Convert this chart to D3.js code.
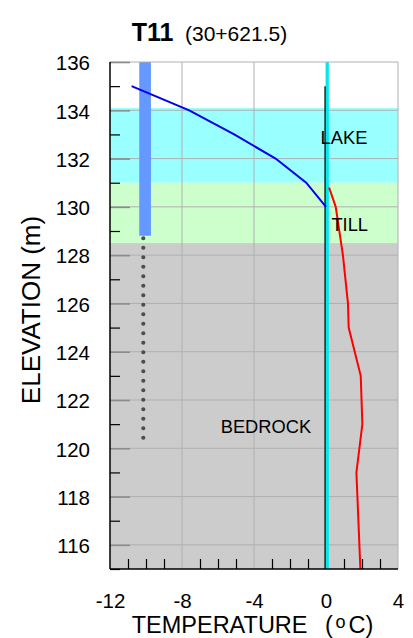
<!DOCTYPE html>
<html><head><meta charset="utf-8">
<script src="https://cdn.jsdelivr.net/npm/d3@7"></script>
<style>
html,body{margin:0;padding:0;background:#fff;}
svg{display:block;font-family:"Liberation Sans",Arial,sans-serif;}
</style></head>
<body>
<svg id="c" width="413" height="638"></svg>
<script>
// ---- data ----
const titleMain = "T11";
const titleSub = "(30+621.5)";
const xTickLabels = [-12, -8, -4, 0, 4];
const yTickLabels = [116, 118, 120, 122, 124, 126, 128, 130, 132, 134, 136];
const xDomain = [-12, 4];
const yDomain = [115, 136];

const layerNames = ["LAKE", "TILL", "BEDROCK"];
const layerTop = [134.1, 131, 128.5];
const layerBottom = [131, 128.5, 115];
const layerLabelTemp = [-0.3, 0.3, -5.85];
const layerLabelElev = [132.6, 129.0, 120.65];

const coldTemp = [-10.8, -7.6, -5.1, -2.8, -1.1, 0];
const coldElev = [135, 134, 133, 132, 131, 130];

const warmTemp = [0.17, 0.54, 0.94, 1.22, 1.26, 1.93, 2.02, 1.69, 1.91];
const warmElev = [130.8, 130, 128, 126, 125, 123, 121, 119, 115];

const casingTemp = -10.05;
const casingTop = 136;
const casingBottom = 128.8;
const holeTop = 128.7;
const holeBottom = 120.3;

const zeroLineTop = 135;

// ---- styles ----
const layerColors = ["#99ffff", "#ccffcc", "#cccccc"];
const L = 110, R = 398, T = 62, B = 569;
const FONT = "Liberation Sans, Arial, sans-serif";

const svg = d3.select("#c");
const x = d3.scaleLinear().domain(xDomain).range([L, R]);
const y = d3.scaleLinear().domain(yDomain).range([B, T]);

svg.append("clipPath").attr("id", "plotclip").append("rect")
  .attr("x", L).attr("y", T).attr("width", R - L).attr("height", B - T);
const plot = svg.append("g").attr("clip-path", "url(#plotclip)");

// layers
plot.selectAll("rect.layer").data(layerNames).join("rect")
  .attr("class", "layer")
  .attr("x", L).attr("width", R - L + 2)
  .attr("y", (d, i) => y(layerTop[i]))
  .attr("height", (d, i) => y(layerBottom[i]) - y(layerTop[i]))
  .attr("fill", (d, i) => layerColors[i]);

// grid
plot.selectAll("line.gy").data(d3.range(116, 136, 2)).join("line")
  .attr("x1", L).attr("x2", R).attr("y1", d => y(d)).attr("y2", d => y(d))
  .attr("stroke", "#b0b0b0").attr("stroke-width", 1);
plot.selectAll("line.gx").data([-8, -4, 0]).join("line")
  .attr("x1", d => x(d)).attr("x2", d => x(d)).attr("y1", T).attr("y2", B)
  .attr("stroke", "#b0b0b0").attr("stroke-width", 1);

// casing column
plot.append("line")
  .attr("x1", x(casingTemp)).attr("x2", x(casingTemp))
  .attr("y1", y(casingTop)).attr("y2", y(casingBottom))
  .attr("stroke", "#6699ff").attr("stroke-width", 11.7);
// hole (dotted)
plot.append("line")
  .attr("x1", x(casingTemp - 0.1)).attr("x2", x(casingTemp - 0.1))
  .attr("y1", y(holeTop)).attr("y2", y(holeBottom))
  .attr("stroke", "#4d4d4d").attr("stroke-width", 4.2)
  .attr("stroke-linecap", "round").attr("stroke-dasharray", "0 9.5");

// zero lines
plot.append("line")
  .attr("x1", x(-0.05)).attr("x2", x(-0.05))
  .attr("y1", y(zeroLineTop)).attr("y2", B)
  .attr("stroke", "#1a3333").attr("stroke-width", 1.6);
plot.append("line")
  .attr("x1", x(0.08)).attr("x2", x(0.08))
  .attr("y1", T).attr("y2", B)
  .attr("stroke", "#00e8ee").attr("stroke-width", 2.8);

// profiles
const line = d3.line().x(d => x(d[0])).y(d => y(d[1]));
plot.append("path").datum(coldTemp.map((t, i) => [t, coldElev[i]]))
  .attr("d", line).attr("fill", "none").attr("stroke", "#0000ee").attr("stroke-width", 2);
plot.append("path").datum(warmTemp.map((t, i) => [t, warmElev[i]]))
  .attr("d", line).attr("fill", "none").attr("stroke", "#ff0000").attr("stroke-width", 2);

// layer labels
svg.selectAll("text.ll").data(layerNames).join("text")
  .attr("x", (d, i) => x(layerLabelTemp[i]))
  .attr("y", (d, i) => y(layerLabelElev[i]))
  .attr("font-size", 18.3).attr("fill", "#000")
  .text(d => d);

// borders
svg.append("line").attr("x1", L).attr("x2", R).attr("y1", T).attr("y2", T).attr("stroke", "#b0b0b0");
svg.append("line").attr("x1", R).attr("x2", R).attr("y1", T).attr("y2", B).attr("stroke", "#b0b0b0");

// left axis: major ticks (inside, grey)
const axMaj = svg.append("g").attr("transform", `translate(${L},0)`)
  .call(d3.axisLeft(y).tickValues(yTickLabels).tickSize(-20).tickFormat(""));
axMaj.select(".domain").remove();
axMaj.selectAll("line").attr("stroke", "#8c8c8c").attr("stroke-width", 1.6);
// minor
const axMin = svg.append("g").attr("transform", `translate(${L},0)`)
  .call(d3.axisLeft(y).tickValues(d3.range(115, 136, 2)).tickSize(-10).tickFormat(""));
axMin.select(".domain").remove();
axMin.selectAll("line").attr("stroke", "#000").attr("stroke-width", 1.2);
// labels
const axLab = svg.append("g").attr("transform", `translate(${L},0)`)
  .call(d3.axisLeft(y).tickValues(yTickLabels).tickSize(0).tickPadding(20).tickFormat(d => String(d)));
axLab.select(".domain").remove();
axLab.selectAll("text").attr("font-size", 20.5).attr("font-family", FONT)
  .attr("fill", "#000").attr("dy", "0.38em");
svg.append("line").attr("x1", L).attr("x2", L).attr("y1", T).attr("y2", B).attr("stroke", "#000").attr("stroke-width", 1.5);

// bottom axis minor ticks
const minorX = d3.range(-11, 4, 1).filter(d => d % 4 !== 0);
const bxMin = svg.append("g").attr("transform", `translate(0,${B})`)
  .call(d3.axisBottom(x).tickValues(minorX).tickSize(-10).tickFormat(""));
bxMin.select(".domain").remove();
bxMin.selectAll("line").attr("stroke", "#000").attr("stroke-width", 1.2);
const bxLab = svg.append("g").attr("transform", `translate(0,${B})`)
  .call(d3.axisBottom(x).tickValues(xTickLabels).tickSize(0).tickPadding(24).tickFormat(d => String(d)));
bxLab.select(".domain").remove();
bxLab.selectAll("text").attr("font-size", 20.5).attr("font-family", FONT).attr("fill", "#000");
svg.append("line").attr("x1", L).attr("x2", R).attr("y1", B).attr("y2", B).attr("stroke", "#000").attr("stroke-width", 1.5);

// title
const tt = svg.append("text").attr("x", 131.7).attr("y", 40.5).attr("fill", "#000");
tt.append("tspan").attr("font-size", 25).attr("font-weight", "bold").text(titleMain);
tt.append("tspan").attr("x", 185).attr("font-size", 21).text(titleSub);

// x axis title
const xt = svg.append("text").attr("x", 131.7).attr("y", 633).attr("font-size", 23.5).attr("fill", "#000");
xt.append("tspan").text("TEMPERATURE");
xt.append("tspan").attr("x", 325).text("(");
xt.append("tspan").attr("x", 335.5).attr("font-size", 18).attr("dy", -5).text("o");
xt.append("tspan").attr("x", 348.5).attr("font-size", 23.5).attr("dy", 5).text("C)");

// y axis title
svg.append("text")
  .attr("transform", `translate(40,310) rotate(-90)`)
  .attr("text-anchor", "middle").attr("font-size", 26).attr("fill", "#000")
  .text("ELEVATION (m)");
</script>
</body></html>
